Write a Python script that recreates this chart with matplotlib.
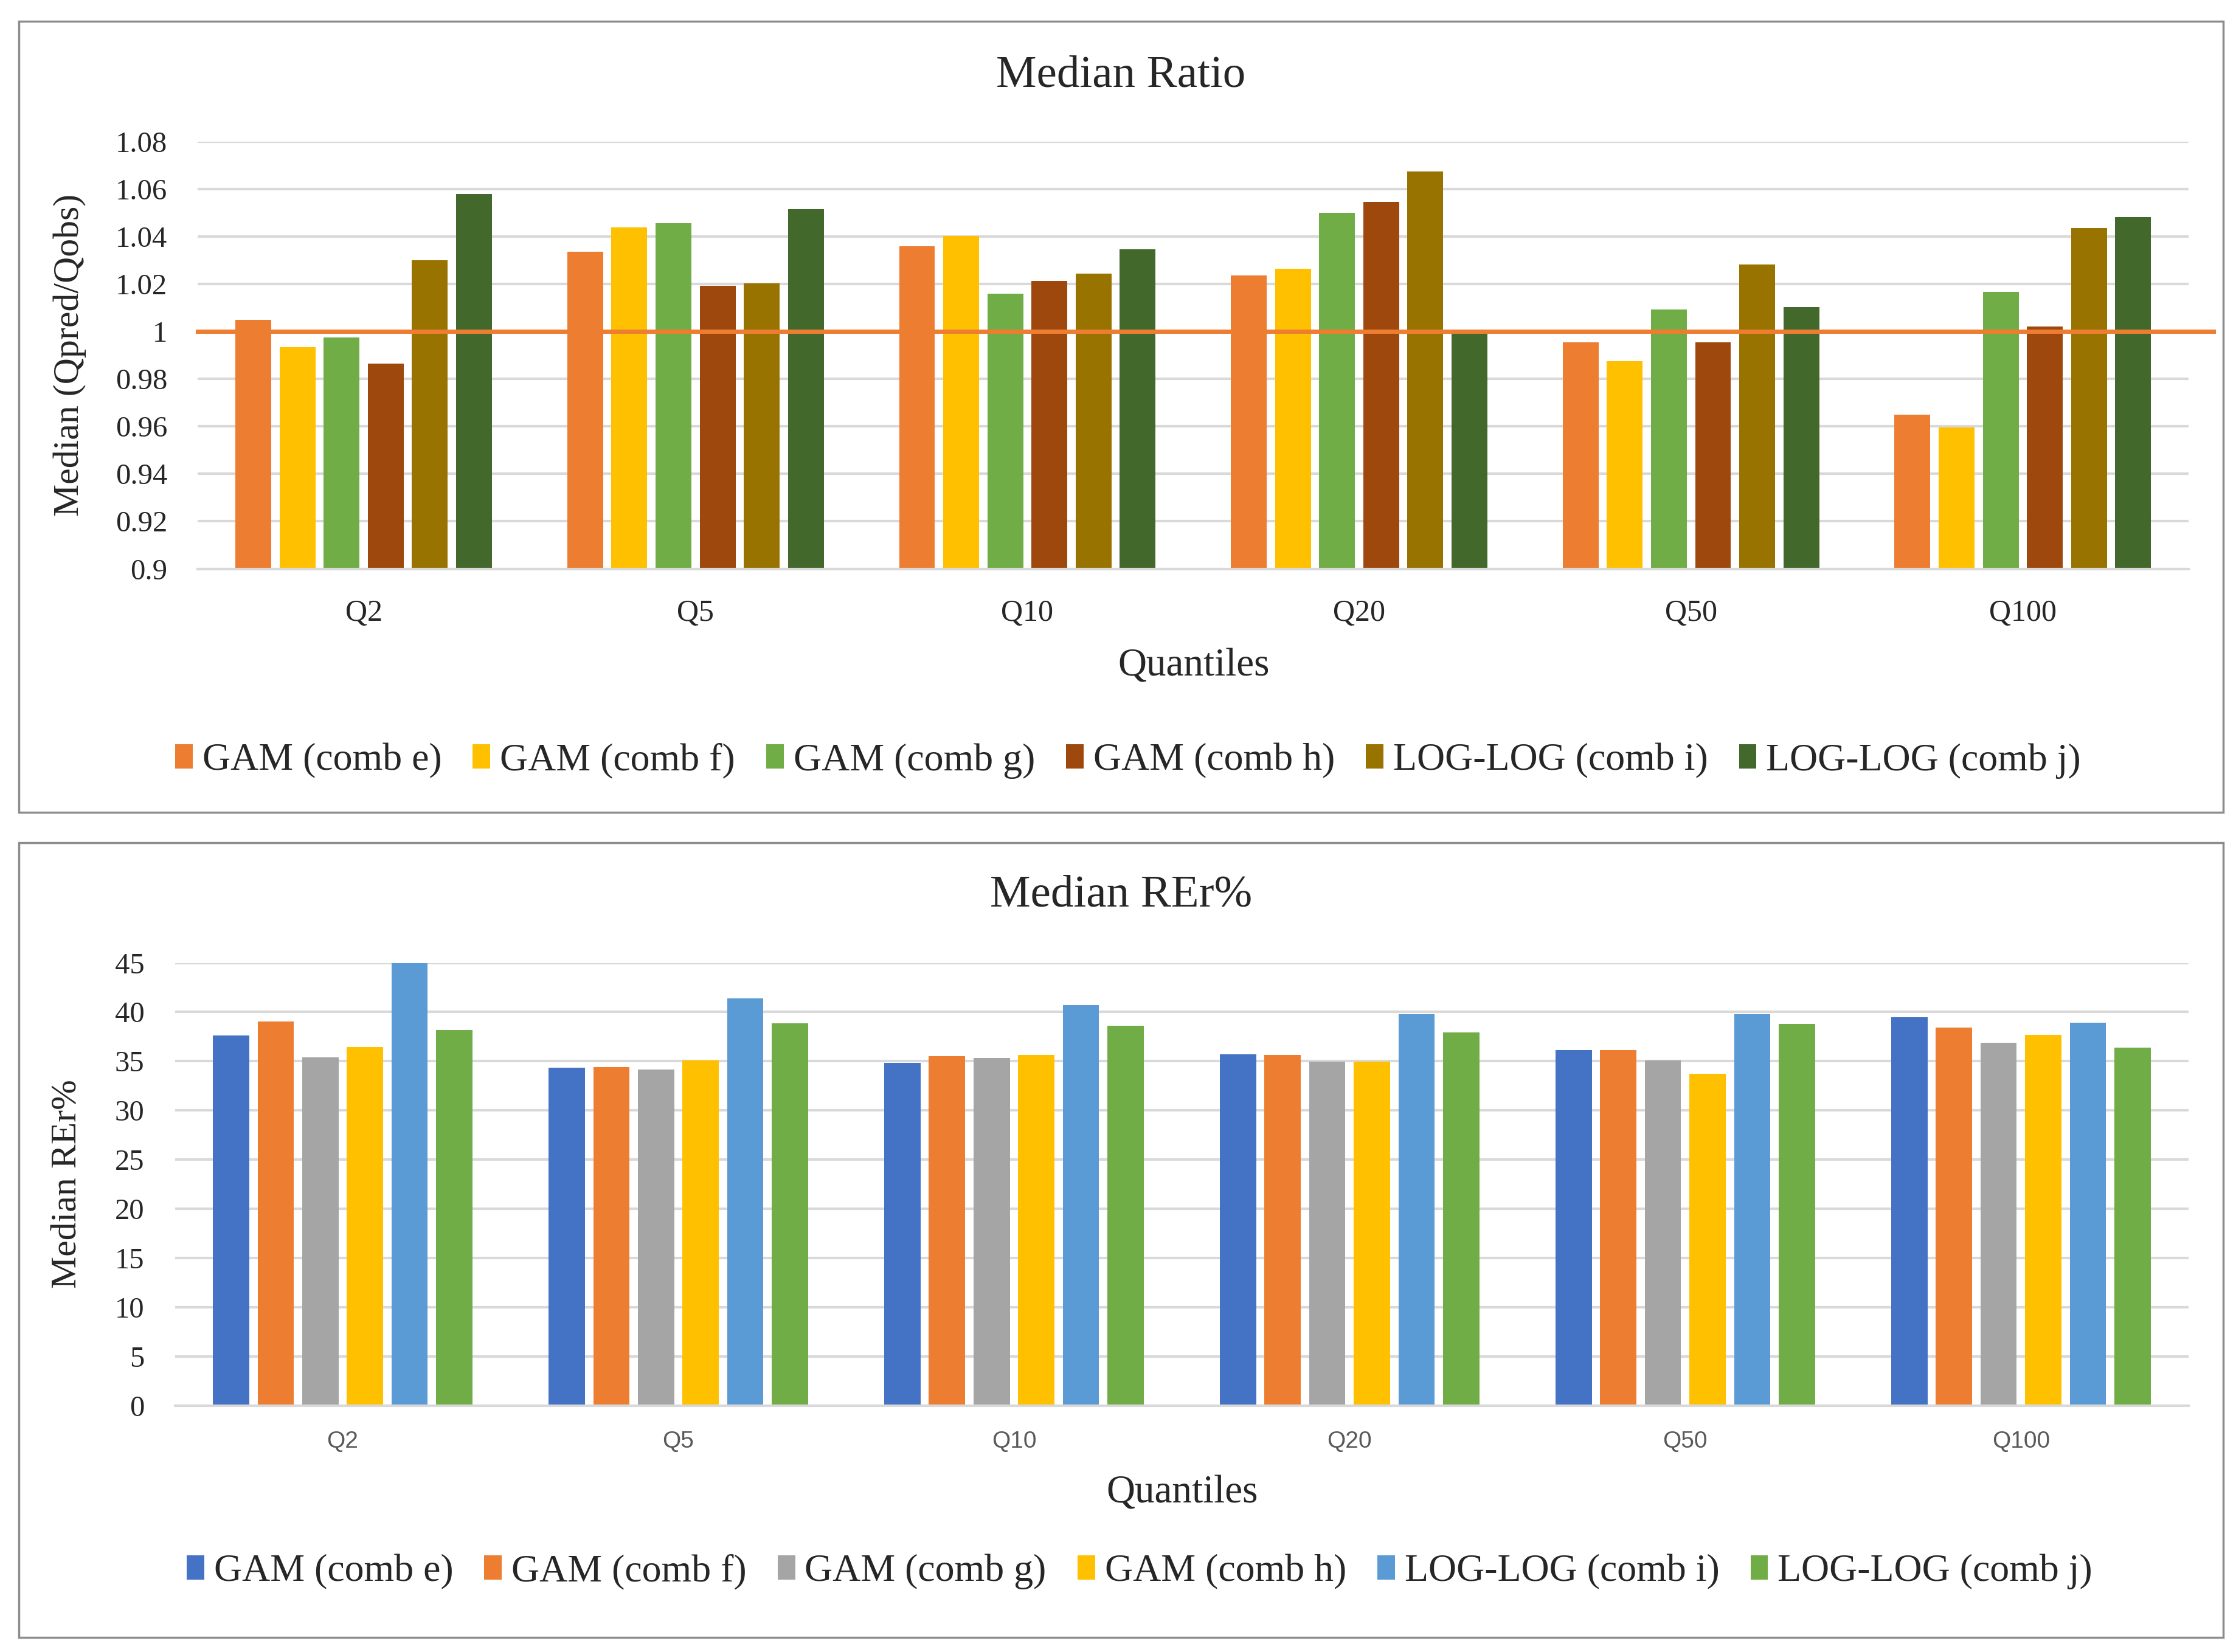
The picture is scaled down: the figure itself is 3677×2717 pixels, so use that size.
import matplotlib
matplotlib.use("Agg")
import matplotlib.pyplot as plt
import numpy as np
from matplotlib.patches import Patch, Rectangle
from matplotlib.lines import Line2D

plt.rcParams['font.family'] = ['Liberation Serif', 'DejaVu Serif']

quantiles = ["Q2", "Q5", "Q10", "Q20", "Q50", "Q100"]
series_names = ["GAM (comb e)", "GAM (comb f)", "GAM (comb g)", "GAM (comb h)",
                "LOG-LOG (comb i)", "LOG-LOG (comb j)"]

ratio_e = [1.005, 1.0336, 1.036, 1.0236, 0.9955, 0.9649]
ratio_f = [0.9934, 1.044, 1.0404, 1.0266, 0.9875, 0.9596]
ratio_g = [0.9976, 1.0456, 1.016, 1.050, 1.0093, 1.0167]
ratio_h = [0.9866, 1.0193, 1.0214, 1.0547, 0.9955, 1.0021]
ratio_i = [1.030, 1.0204, 1.0245, 1.0675, 1.0284, 1.0437]
ratio_j = [1.058, 1.0515, 1.0347, 1.0009, 1.0103, 1.0482]

rer_e = [37.6, 34.35, 34.86, 35.7, 36.12, 39.5]
rer_f = [39.05, 34.42, 35.5, 35.65, 36.12, 38.4]
rer_g = [35.4, 34.18, 35.34, 34.93, 35.07, 36.9]
rer_h = [36.43, 35.07, 35.65, 34.93, 33.71, 37.65]
rer_i = [45.0, 41.36, 40.71, 39.76, 39.76, 38.9]
rer_j = [38.2, 38.84, 38.6, 37.93, 38.78, 36.39]

ratio_ticks = [0.9, 0.92, 0.94, 0.96, 0.98, 1, 1.02, 1.04, 1.06, 1.08]
ratio_tick_labels = ["0.9", "0.92", "0.94", "0.96", "0.98", "1", "1.02", "1.04", "1.06", "1.08"]
rer_ticks = [0, 5, 10, 15, 20, 25, 30, 35, 40, 45]

top_colors = ["#ED7D31", "#FFC000", "#70AD47", "#9E480E", "#997300", "#43682B"]
bot_colors = ["#4472C4", "#ED7D31", "#A5A5A5", "#FFC000", "#5B9BD5", "#70AD47"]

W, H = 3677, 2717
fig = plt.figure(figsize=(W / 100, H / 100), dpi=100)

# panel borders
for (y0, y1) in [(15, 567), (588, 1143)]:
    fy0 = 1 - y1 / 1153
    fy1 = 1 - y0 / 1153
    fig.patches.append(Rectangle((13 / 1560, fy0), (1551 - 13) / 1560, fy1 - fy0,
                                 transform=fig.transFigure, fill=False,
                                 edgecolor="#8C8C8C", linewidth=2.5))

grid_c = "#D9D9D9"
pitch = 0.133
bw = 0.108
x = np.arange(len(quantiles))


def style_axes(ax):
    for s in ["top", "right", "left"]:
        ax.spines[s].set_visible(False)
    ax.spines["bottom"].set_color(grid_c)
    ax.spines["bottom"].set_linewidth(3)
    ax.yaxis.grid(True, color=grid_c, linewidth=3)
    ax.set_axisbelow(True)
    ax.tick_params(axis="both", length=0)
    ax.set_xlim(-0.5, len(quantiles) - 0.5)


# ---- Top panel ----
ax1 = fig.add_axes([138 / 1560, 1 - 397 / 1153, (1527 - 138) / 1560, (397 - 99) / 1153])
top_data = [ratio_e, ratio_f, ratio_g, ratio_h, ratio_i, ratio_j]
for i, vals in enumerate(top_data):
    off = (i - 2.5) * pitch
    ax1.bar(x + off, np.array(vals) - 0.9, bottom=0.9, width=bw,
            color=top_colors[i], zorder=2)
ax1.set_ylim(0.9, 1.08)
ax1.set_yticks(ratio_ticks)
ax1.set_yticklabels(ratio_tick_labels)
ax1.set_xticks(x)
ax1.set_xticklabels(quantiles)
style_axes(ax1)
ax1.tick_params(axis="y", labelsize=35, pad=36, colors="#262626")
ax1.tick_params(axis="x", labelsize=36, pad=36, colors="#262626")
ax1.add_line(Line2D([0, 1.0125], [1.0, 1.0], transform=ax1.get_yaxis_transform(),
                    color="#ED7D31", linewidth=5, clip_on=False, zorder=3))
ax1.set_ylabel("Median (Qpred/Qobs)", fontsize=43, color="#262626")
ax1.yaxis.set_label_coords(-0.056, 0.5)

fig.text(782 / 1560, 1 - 53 / 1153, "Median Ratio", ha="center", va="center",
         fontsize=54, color="#262626")
fig.text(833 / 1560, 1 - 465 / 1153, "Quantiles", ha="center", va="center",
         fontsize=47, color="#262626")
handles1 = [Patch(facecolor=c, edgecolor="none") for c in top_colors]
fig.legend(handles1, series_names, loc="center", bbox_to_anchor=(787 / 1560, 1 - 531 / 1153),
           ncol=6, frameon=False, fontsize=46, handlelength=0.45, handleheight=0.6,
           handletextpad=0.25, columnspacing=0.8, labelcolor="#262626")

# ---- Bottom panel ----
ax2 = fig.add_axes([122 / 1560, 1 - 981 / 1153, (1527 - 122) / 1560, (981 - 672) / 1153])
bot_data = [rer_e, rer_f, rer_g, rer_h, rer_i, rer_j]
for i, vals in enumerate(bot_data):
    off = (i - 2.5) * pitch
    ax2.bar(x + off, vals, width=bw, color=bot_colors[i], zorder=2)
ax2.set_ylim(0, 45)
ax2.set_yticks(rer_ticks)
ax2.set_xticks(x)
ax2.set_xticklabels(quantiles)
style_axes(ax2)
ax2.tick_params(axis="y", labelsize=35, pad=36, colors="#262626")
ax2.tick_params(axis="x", labelsize=28, pad=30, colors="#595959")
for lab in ax2.get_xticklabels():
    lab.set_family(["Liberation Sans", "DejaVu Sans"])
ax2.set_ylabel("Median REr%", fontsize=43, color="#262626")
ax2.yaxis.set_label_coords(-0.045, 0.5)

fig.text(782 / 1560, 1 - 625 / 1153, "Median REr%", ha="center", va="center",
         fontsize=54, color="#262626")
fig.text(825 / 1560, 1 - 1042 / 1153, "Quantiles", ha="center", va="center",
         fontsize=47, color="#262626")
handles2 = [Patch(facecolor=c, edgecolor="none") for c in bot_colors]
fig.legend(handles2, series_names, loc="center", bbox_to_anchor=(795 / 1560, 1 - 1097 / 1153),
           ncol=6, frameon=False, fontsize=46, handlelength=0.45, handleheight=0.6,
           handletextpad=0.25, columnspacing=0.8, labelcolor="#262626")

fig.savefig("out.png", dpi=100, facecolor="white")
